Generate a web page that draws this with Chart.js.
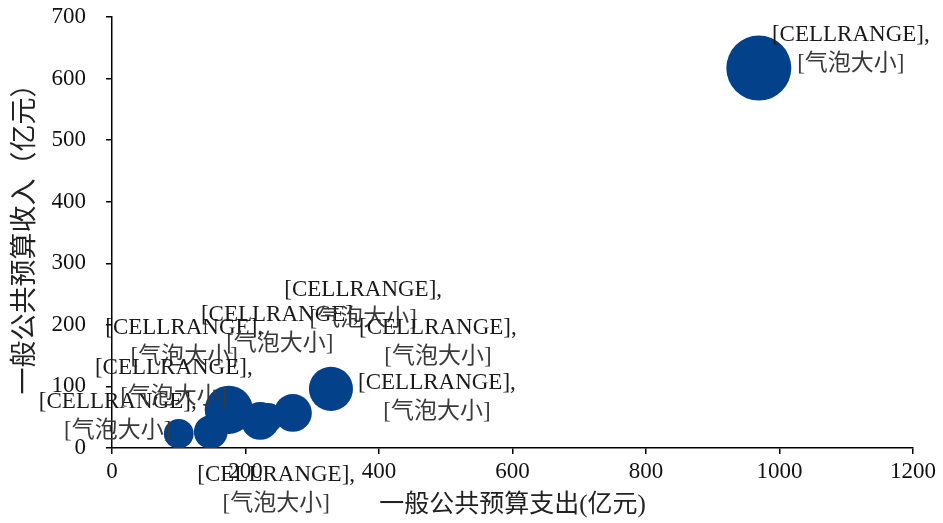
<!DOCTYPE html>
<html>
<head>
<meta charset="utf-8">
<script src="https://cdn.jsdelivr.net/npm/chart.js@4"></script>
<style>
  body { margin: 0; background: #fff; }
  #wrap { width: 943px; height: 523px; }
</style>
</head>
<body>
<div id="wrap"><canvas id="myChart"></canvas></div>
<script>
// 支出 / 收入 (亿元)，气泡大小
var spending = [192, 100, 148, 175, 234, 222, 271, 328, 969];
var revenue = [54, 23, 26, 62, 49, 44, 57, 96, 617];
var bubbleSize = [19, 21, 27, 55, 21, 34, 34, 46, 100];
var xTicks = [0, 200, 400, 600, 800, 1000, 1200];
var yTicks = [0, 100, 200, 300, 400, 500, 600, 700];

var labelLine1 = '[CELLRANGE],';
var labelLine2 = '[气泡大小]';
// 标签相对气泡中心的偏移 (px)
var labelOffset = [[-56, -87], [-61, -32], [-37, -64], [51, -95], [95, -128], [16, 54], [145, -85], [106, -6], [92, -33]];

var FONT = "'Liberation Serif', 'Noto Sans CJK SC', serif";
var MAX_R = 32.5;
var maxSize = Math.max.apply(null, bubbleSize);

var points = spending.map(function(x, i) {
    return { x: x, y: revenue[i], r: MAX_R * Math.sqrt(bubbleSize[i] / maxSize) };
});

var bubbleLabels = {
    id: 'bubbleLabels',
    afterDatasetsDraw: function(chart) {
        var ctx = chart.ctx;
        var meta = chart.getDatasetMeta(0);
        ctx.save();
        ctx.font = '23px ' + FONT;
        ctx.textAlign = 'center';
        ctx.textBaseline = 'middle';
        meta.data.forEach(function(pt, i) {
            var cx = pt.x + labelOffset[i][0];
            var cy = pt.y + labelOffset[i][1];
            ctx.fillStyle = '#1a1a1a';
            ctx.fillText(labelLine1, cx, cy);
            ctx.fillStyle = '#3a3a3a';
            ctx.fillText(labelLine2, cx, cy + 29);
        });
        ctx.restore();
    }
};

function plainTick(v) { return String(v); }

var ctx = document.getElementById('myChart').getContext('2d');
var chart = new Chart(ctx, {
    type: 'bubble',
    data: {
        datasets: [{
            data: points,
            backgroundColor: '#03428a',
            borderColor: '#03428a',
            borderWidth: 0,
            clip: 0
        }]
    },
    options: {
        responsive: true,
        maintainAspectRatio: false,
        animation: false,
        layout: { autoPadding: false, padding: { top: 17, right: 30, bottom: 0, left: 0 } },
        plugins: { legend: { display: false }, tooltip: { enabled: false } },
        scales: {
            x: {
                type: 'linear',
                min: xTicks[0],
                max: xTicks[xTicks.length - 1],
                afterBuildTicks: function(scale) {
                    scale.ticks = xTicks.map(function(v) { return { value: v }; });
                },
                afterFit: function(scale) { scale.height = 75; },
                border: { color: '#000', width: 1.5 },
                grid: { drawOnChartArea: false, color: '#000', tickLength: 6, lineWidth: 1.5 },
                ticks: { color: '#111', padding: 4, callback: plainTick, font: { family: FONT, size: 23 } },
                title: {
                    display: true,
                    text: '一般公共预算支出(亿元)',
                    color: '#222',
                    padding: { top: 0, bottom: 3 },
                    font: { family: FONT, size: 25 }
                }
            },
            y: {
                type: 'linear',
                min: yTicks[0],
                max: yTicks[yTicks.length - 1],
                afterBuildTicks: function(scale) {
                    scale.ticks = yTicks.map(function(v) { return { value: v }; });
                },
                afterFit: function(scale) {
                    scale.width = 112;
                    // 刻度标签间距不计入上下留白
                    scale.paddingTop = 14;
                    scale.paddingBottom = 14;
                },
                border: { color: '#000', width: 1.5 },
                grid: { drawOnChartArea: false, color: '#000', tickLength: 6, lineWidth: 1.5 },
                ticks: { color: '#111', padding: 20, callback: plainTick, font: { family: FONT, size: 23 } },
                title: {
                    display: true,
                    text: '一般公共预算收入（亿元）',
                    color: '#222',
                    padding: { top: 10, bottom: 0 },
                    font: { family: FONT, size: 27 }
                }
            }
        }
    },
    plugins: [bubbleLabels]
});
</script>
</body>
</html>
